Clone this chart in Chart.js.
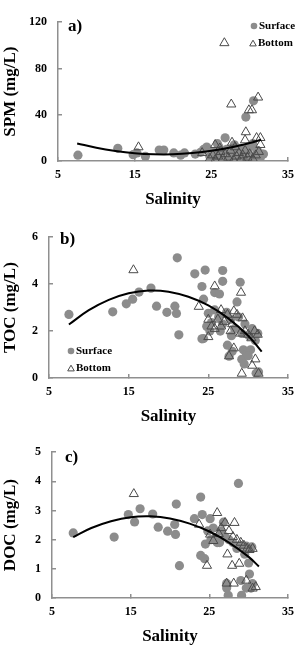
<!DOCTYPE html>
<html><head><meta charset="utf-8">
<script src="https://cdn.jsdelivr.net/npm/chart.js@4.4.1/dist/chart.umd.min.js"></script>
<style>
html,body{margin:0;padding:0;background:#fff;width:305px;height:647px;overflow:hidden}
canvas{position:absolute;left:0}
</style></head>
<body>
<canvas id="ca" width="305" height="215" style="top:0px"></canvas>
<canvas id="cb" width="305" height="215" style="top:215px"></canvas>
<canvas id="cc" width="305" height="217" style="top:430px"></canvas>
<script>
// ---------- tick labels ----------
const salinityTicks = [5, 15, 25, 35];
const spmTicks = [0, 40, 80, 120];
const tocTicks = [0, 2, 4, 6];
const docTicks = [0, 1, 2, 3, 4, 5];

// ---------- panel a) SPM ----------
const spmSurfaceSal = [7.6,12.8,14.8,15.3,16.4,18.2,18.8,20.1,21,21.5,22.9,23.6,24.4,24.8,25.2,25.6,26,26.3,26.8,27,27.4,27.8,28,28.3,28.6,29,29.3,29.5,29.7,30,30.2,30.5,30.7,31,31.4,31.8,26.5,25.8,28.8,30.4,24.0,31.6];
const spmSurface    = [5,11,5.5,7,4,9.5,9.5,7,5,7,6,7.5,12,4,8,2,12,6,20,10,3,8,14,2,6,10,4,38,8,12,1,52,5,9,3,6,0.5,15,11,15,10,6];
const spmBottomSal  = [15.5,26.7,27.6,29.9,30.3,31.1,29.5,29.4,30.9,31.4,31.4,25.5,27.7,23.8,24.8,25.2,25.5,25.9,26.2,26.5,26.8,27.2,27.5,27.9,28.3,28.6,28.9,29.1,29.4,29.7,30,30.4,30.8,31.2,26.1,28.1];
const spmBottom     = [12,102,49,44,44,55,25,18,20,20,14,14,16,7,2,5,1,4,8,2,6,3,9,1,4,7,2,5,9,3,6,2,5,8,11,12];
const spmFitSal     = [7.5,10,12.5,15,17.5,20,22.5,25,27.5,30,31.5];
const spmFit        = [15.2,11.4,8.6,6.7,5.8,5.8,6.9,8.8,11.7,15.6,18.4];

// ---------- panel b) TOC ----------
const tocSurfaceSal = [7.5,13,14.7,15.5,16.3,17.8,18.5,19.8,20.8,21,21.1,21.3,23.3,24.6,24.2,24.4,24.2,26.8,26.8,25.8,26.4,29,28.6,25,25.4,24.4,27.4,28,27.6,29.4,29.8,29.2,29.5,31.3,31,25.8,26.3,26.8,27.3,27.8,28.3,28.8,29.2,29.6,30.1,30.5,30.9,31.2,26.5,27.9,30.3,25.2,24.8,30];
const tocSurface    = [2.71,2.82,3.16,3.36,3.66,3.83,3.06,2.8,3.06,2.75,5.12,1.84,4.44,4.6,3.9,3.36,1.67,4.58,4.12,3.64,3.58,4.08,3.24,2.76,2.36,1.68,1.4,1.14,0.93,1.2,1.0,0.8,0.6,0.26,0.2,2.9,2.6,2.3,2.8,2.5,2.1,2.6,1.9,2.3,1.8,2.1,1.6,1.9,2.0,1.8,1.2,2.0,2.2,0.95];
const tocBottomSal  = [15.6,25.8,29.1,23.8,25,25.4,25.8,25,28.2,27.6,30.9,30.5,29.2,31.3,26.6,27.4,28.2,28.6,27,26.2,28,29.3,29.6,30,30.4,30.8,31.2,27.8,29,26.6];
const tocBottom     = [4.6,3.91,3.64,3.04,2.49,2.2,2.1,1.75,1.27,0.93,0.8,0.53,0.19,0.19,2.9,2.7,2.85,2.7,2.4,2.5,2.3,2.55,2.0,1.85,1.7,2.0,1.85,2.0,1.9,2.2];
const tocFitSal     = [7.5,10,12.5,15,17.5,20,22.5,25,27.5,30,31.7];
const tocFit        = [2.28,2.89,3.33,3.61,3.73,3.68,3.46,3.09,2.54,1.8,1.12];

// ---------- panel c) DOC ----------
const docSurfaceSal = [7.7,12.9,14.7,15.5,16.2,17.8,18.5,19.7,20.6,20.8,20.7,21.2,23.1,23.9,24.1,25.1,23.9,24.4,24.5,25.8,26.3,26,28.7,29.7,30.1,27.2,27.2,27.4,29,29.1,29.7,30.3,30.5,25.5,26.5,27,27.5,28,28.5,29,29.5,30,30.4,26.8,24.8,25.2];
const docSurface    = [2.23,2.09,2.86,2.61,3.06,2.88,2.43,2.29,2.52,3.22,2.18,1.11,2.72,3.46,2.86,2.72,1.46,1.35,1.85,2.07,1.9,1.9,3.93,1.78,0.82,0.5,0.34,0.09,0.6,0.09,0.34,0.34,0.49,2.4,2.3,2.1,2.0,1.9,1.7,1.8,1.5,1.2,1.75,2.6,2.3,2.0];
const docBottomSal  = [15.4,26,23.7,27,28.2,25.1,25.5,30.5,24.7,27.9,28.8,29.7,27.2,30.9,30.5,26.5,27.5,28,28.5,29,29.4,29.8,30.1,26.2,27.3,28.1];
const docBottom     = [3.57,2.92,2.52,2.58,2.58,2.18,1.96,1.69,1.11,1.11,1.18,0.6,0.5,0.38,0.33,2.4,2.3,2.1,2.0,1.9,1.8,1.7,1.65,2.2,1.5,0.5];
const docFitSal     = [7.7,10,12.5,15,17.5,20,22.5,25,27.5,30,31.3];
const docFit        = [2.09,2.4,2.63,2.77,2.8,2.73,2.55,2.28,1.9,1.41,1.08];

// ---------- helpers ----------
const zip = (xs, ys) => xs.map((x, i) => ({x: x, y: ys[i]}));
const FONT = '"Liberation Serif", "Times New Roman", serif';
const AXIS_GRAY = '#8f8f8f';
const CIRCLE_GRAY = '#8c8c8c';
const TRI_STROKE = '#4a4a4a';

Chart.defaults.color = '#000';
Chart.defaults.font.family = FONT;

function drawSymbol(ctx, style, x, y, r) {
  ctx.save();
  if (style === 'circle') {
    ctx.fillStyle = CIRCLE_GRAY;
    ctx.beginPath(); ctx.arc(x, y, r, 0, Math.PI * 2); ctx.fill();
  } else {
    ctx.strokeStyle = TRI_STROKE; ctx.lineWidth = 1;
    ctx.beginPath();
    for (let k = 0; k < 3; k++) {
      const a = k * 2 * Math.PI / 3;
      const px = x + Math.sin(a) * r, py = y - Math.cos(a) * r;
      if (k === 0) ctx.moveTo(px, py); else ctx.lineTo(px, py);
    }
    ctx.closePath(); ctx.stroke();
  }
  ctx.restore();
}

const panelText = {
  id: 'panelText',
  afterDatasetsDraw(chart, args, opts) {
    const ctx = chart.ctx;
    ctx.save();
    ctx.fillStyle = '#000';
    ctx.textBaseline = 'middle';
    ctx.textAlign = 'left';
    ctx.font = 'bold 17px ' + FONT;
    ctx.fillText(opts.label, opts.labelX, opts.labelY);
    if (opts.legend) {
      ctx.font = 'bold 11px ' + FONT;
      opts.legend.forEach(item => {
        drawSymbol(ctx, item.style, item.sx, item.sy, item.r);
        ctx.fillStyle = '#000';
        ctx.fillText(item.text, item.tx, item.ty);
      });
    }
    ctx.restore();
  }
};

function makeChart(id, p) {
  const H = document.getElementById(id).height;
  return new Chart(document.getElementById(id), {
    type: 'scatter',
    data: {
      datasets: [
        {label: 'fit', data: zip(p.fitX, p.fitY), showLine: true, borderColor: '#000', borderWidth: 2,
         pointRadius: 0, tension: 0.4, fill: false, order: 0},
        {label: 'Bottom', data: zip(p.botX, p.botY), pointStyle: 'triangle', pointRadius: 5.3,
         backgroundColor: 'rgba(255,255,255,0)', borderColor: TRI_STROKE, borderWidth: 1, order: 1},
        {label: 'Surface', data: zip(p.surX, p.surY), pointStyle: 'circle', pointRadius: 4.6,
         backgroundColor: CIRCLE_GRAY, borderWidth: 0, order: 2}
      ]
    },
    options: {
      responsive: false,
      animation: false,
      devicePixelRatio: 1,
      events: [],
      layout: {padding: {left: 0, top: p.top, right: 305 - p.right, bottom: H - p.bottom - 49}},
      plugins: {
        legend: {display: false},
        tooltip: {enabled: false},
        panelText: p.text
      },
      scales: {
        x: {
          type: 'linear', position: 'bottom', min: 5, max: 35,
          afterBuildTicks: s => { s.ticks = salinityTicks.map(v => ({value: v})); },
          afterFit: s => { s.height = 49; },
          grid: {drawOnChartArea: false, drawTicks: true, tickLength: -4, color: AXIS_GRAY, lineWidth: 1.5},
          border: {display: true, color: AXIS_GRAY, width: 1.5},
          ticks: {padding: 11, color: '#000', font: {size: 12, weight: 'bold', family: FONT}},
          title: {display: true, text: 'Salinity', color: '#000', padding: {top: 0, bottom: 0},
                  font: {size: 17, weight: 'bold', family: FONT, lineHeight: 1.2}}
        },
        y: {
          type: 'linear', position: 'left', min: p.yTicks[0], max: p.yTicks[p.yTicks.length - 1],
          afterBuildTicks: s => { s.ticks = p.yTicks.map(v => ({value: v})); },
          afterFit: s => { s.width = p.left; },
          grid: {drawOnChartArea: false, drawTicks: true, tickLength: -4, color: AXIS_GRAY, lineWidth: 1.5},
          border: {display: true, color: AXIS_GRAY, width: 1.5},
          ticks: {padding: 15, color: '#000', font: {size: 12, weight: 'bold', family: FONT}},
          title: {display: true, text: p.yTitle, color: '#000', padding: {top: 0, bottom: 0},
                  font: {size: 17, weight: 'bold', family: FONT, lineHeight: 1.2}}
        }
      }
    },
    plugins: [panelText]
  });
}

makeChart('ca', {
  surX: spmSurfaceSal, surY: spmSurface, botX: spmBottomSal, botY: spmBottom,
  fitX: spmFitSal, fitY: spmFit, yTicks: spmTicks, yTitle: 'SPM (mg/L)',
  left: 58, right: 295, top: 13, bottom: 161,
  text: {label: 'a)', labelX: 68, labelY: 27, legend: [
    {style: 'circle', sx: 254, sy: 26, r: 3.3, text: 'Surface', tx: 259, ty: 26},
    {style: 'triangle', sx: 253, sy: 44, r: 3.8, text: 'Bottom', tx: 258, ty: 43}
  ]}
});
makeChart('cb', {
  surX: tocSurfaceSal, surY: tocSurface, botX: tocBottomSal, botY: tocBottom,
  fitX: tocFitSal, fitY: tocFit, yTicks: tocTicks, yTitle: 'TOC (mg/L)',
  left: 49, right: 295, top: 15, bottom: 163,
  text: {label: 'b)', labelX: 60, labelY: 25, legend: [
    {style: 'circle', sx: 71, sy: 136, r: 3.3, text: 'Surface', tx: 76, ty: 136},
    {style: 'triangle', sx: 71, sy: 154, r: 3.8, text: 'Bottom', tx: 76, ty: 153}
  ]}
});
makeChart('cc', {
  surX: docSurfaceSal, surY: docSurface, botX: docBottomSal, botY: docBottom,
  fitX: docFitSal, fitY: docFit, yTicks: docTicks, yTitle: 'DOC (mg/L)',
  left: 52, right: 293, top: 20, bottom: 168,
  text: {label: 'c)', labelX: 65, labelY: 28}
});
</script>
</body></html>
